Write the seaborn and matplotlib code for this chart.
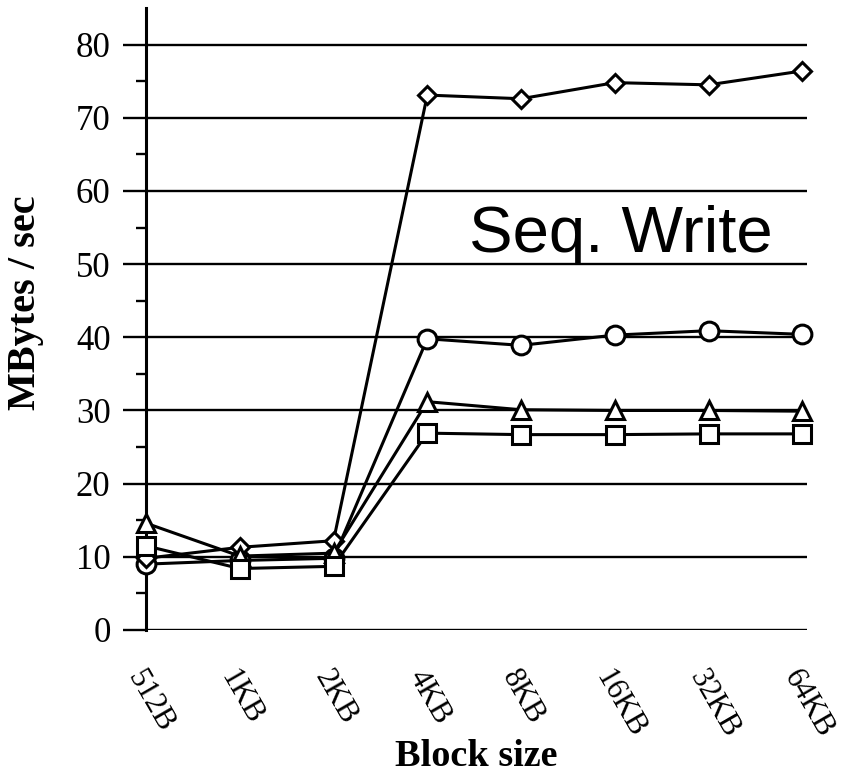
import matplotlib
matplotlib.use("Agg")
import matplotlib.pyplot as plt
import seaborn as sns
import numpy as np
import pandas as pd

block_sizes = ["512B", "1KB", "2KB", "4KB", "8KB", "16KB", "32KB", "64KB"]

# Sequential write throughput (MBytes/sec) for four configurations
circle_vals = [9.0, 9.5, 9.8, 39.8, 38.9, 40.3, 40.9, 40.4]
diamond_vals = [9.8, 11.3, 12.2, 73.1, 72.6, 74.8, 74.5, 76.4]
triangle_vals = [14.6, 10.1, 10.5, 31.2, 30.1, 30.0, 30.0, 29.9]
square_vals = [11.5, 8.4, 8.7, 26.9, 26.7, 26.7, 26.8, 26.8]

series = [
    ("circle", circle_vals, "o", 13.5),
    ("diamond", diamond_vals, "D", 9.5),
    ("triangle", triangle_vals, "^", 13.5),
    ("square", square_vals, "s", 12.5),
]

sns.set_theme(style="white")
plt.rcParams["font.family"] = ["Liberation Serif", "DejaVu Serif"]
plt.rcParams["text.color"] = "black"
plt.rcParams["axes.labelcolor"] = "black"
plt.rcParams["xtick.color"] = "black"
plt.rcParams["ytick.color"] = "black"

fig = plt.figure(figsize=(8.51, 7.84), dpi=100)
ax = fig.add_axes([146 / 851, 1 - 630 / 784, (807 - 146) / 851, (630 - 8) / 784])

x_idx = np.arange(len(block_sizes))
for name, vals, mk, ms in series:
    df = pd.DataFrame({"x": x_idx, "y": vals})
    sns.lineplot(data=df, x="x", y="y", ax=ax, color="black", linewidth=2.2,
                 marker=mk, markersize=ms, markerfacecolor="white",
                 markeredgecolor="black", markeredgewidth=2.2, zorder=3,
                 clip_on=False)

ax.set_xlim(0, 7.05)
ax.set_ylim(0, 85)

ax.set_yticks(np.arange(0, 81, 10))
ax.set_yticks(np.arange(5, 80, 10), minor=True)
ax.yaxis.grid(True, which="major", color="black", linewidth=1.7)
ax.xaxis.grid(False)
ax.set_axisbelow(True)

ax.tick_params(axis="y", which="major", direction="out", length=16.5, width=1.7,
               color="black", labelcolor="black", labelsize=25, pad=9, left=True)
ax.tick_params(axis="y", which="minor", direction="out", length=7, width=1.7,
               color="black", left=True)

ax.set_xticks(x_idx)
ax.set_xticklabels(block_sizes, rotation=-60, ha="left", va="top",
                   rotation_mode="anchor", fontsize=22, color="black")
ax.tick_params(axis="x", which="both", length=0, pad=25)

for side in ["top", "right", "bottom"]:
    ax.spines[side].set_visible(False)
ax.spines["left"].set_color("black")
ax.spines["left"].set_linewidth(2.2)

ax.set_xlabel("Block size", fontsize=27.5, fontweight="bold", color="black")
ax.set_ylabel("MBytes / sec", fontsize=29, fontweight="bold", color="black")
ax.xaxis.set_label_coords(0.5, -0.175)
ax.yaxis.set_label_coords(-0.155, 0.527)

ax.text(3.44, 51.6, "Seq. Write", fontsize=47, family="Liberation Sans",
        color="black", ha="left", va="baseline")

fig.savefig("out.png", dpi=100, facecolor="white")
